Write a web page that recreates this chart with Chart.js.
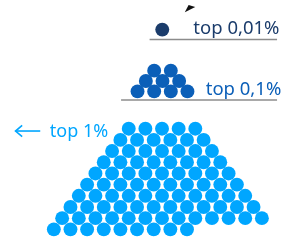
<!DOCTYPE html>
<html><head><meta charset="utf-8">
<script src="https://cdn.jsdelivr.net/npm/chart.js@4/dist/chart.umd.min.js"></script>
<style>html,body{margin:0;padding:0;background:#fff}canvas{display:block}</style>
</head><body>
<canvas id="c" width="284" height="246"></canvas>
<script>
// ---- data ----
const groupLabels = ['top 0,01%', 'top 0,1%', 'top 1%'];
const groupUnits = [1, 9, 90];                 // circles in each group
const rowsTop001 = [1];                        // rows from bottom to top
const rowsTop01 = [4, 3, 2];
const rowsTop1 = [9, 13, 12, 11, 10, 9, 8, 7, 6, 5];
const groupColors = ['#1b3c6b', '#0b5fb8', '#00a6ff'];

// ---- layout (pixel-like data units) ----
const layout = [
  {rows: rowsTop001, x0: 163.3, y0: 24, dx: 17.5, dy: 11.85},
  {rows: rowsTop01, x0: 137.3, y0: 89.5, dx: 17.5, dy: 11},
  {rows: rowsTop1, x0: 49.3, y0: 235.7, dx: 17.5, dy: 11.85}
];
function pack(g) {
  const pts = [];
  g.rows.forEach((n, r) => {
    for (let i = 0; i < n; i++) pts.push({x: g.x0 + r * g.dx / 2 + i * g.dx, y: g.y0 - r * g.dy});
  });
  return pts;
}
const datasets = layout.map((g, k) => ({
  label: groupLabels[k],
  data: pack(g),
  backgroundColor: groupColors[k],
  borderWidth: 0,
  pointRadius: 6.95,
  pointHoverRadius: 6.95,
  clip: false
}));

const deco = {
  id: 'deco',
  afterDraw(chart) {
    const {ctx, scales: {x, y}} = chart;
    const X = v => x.getPixelForValue(v), Y = v => y.getPixelForValue(v);
    ctx.save();
    // separators
    ctx.strokeStyle = '#8c8c8c'; ctx.lineWidth = 1.5;
    [[150, 284, 34.5], [120, 284, 98.5]].forEach(([a, b, yy]) => {
      ctx.beginPath(); ctx.moveTo(X(a), Y(yy)); ctx.lineTo(X(b), Y(yy)); ctx.stroke();
    });
    // labels
    ctx.font = '18.5px "Noto Sans"';
    ctx.textBaseline = 'alphabetic';
    ctx.textAlign = 'left';
    ctx.fillStyle = groupColors[0]; ctx.fillText(groupLabels[0], X(196), Y(29));
    ctx.fillStyle = groupColors[1]; ctx.fillText(groupLabels[1], X(209), Y(93));
    ctx.font = '18px "Noto Sans"';
    ctx.fillStyle = groupColors[2]; ctx.fillText(groupLabels[2], X(45), Y(138));
    // left arrow
    ctx.strokeStyle = groupColors[2]; ctx.lineWidth = 1.6;
    ctx.beginPath(); ctx.moveTo(X(35), Y(131.5)); ctx.lineTo(X(9), Y(131.5)); ctx.stroke();
    ctx.beginPath(); ctx.moveTo(X(16), Y(125.5)); ctx.lineTo(X(9), Y(131.5)); ctx.lineTo(X(16), Y(137.5)); ctx.stroke();
    // cropped arrowhead at top
    ctx.fillStyle = '#111';
    ctx.beginPath(); ctx.moveTo(X(187), Y(5.5)); ctx.lineTo(X(191), Y(-2)); ctx.lineTo(X(198), Y(0)); ctx.closePath(); ctx.fill();
    ctx.restore();
  }
};

new Chart(document.getElementById('c'), {
  type: 'scatter',
  data: {datasets},
  options: {
    responsive: false,
    devicePixelRatio: 1,
    animation: false,
    layout: {padding: 0},
    plugins: {legend: {display: false}, tooltip: {enabled: false}},
    scales: {
      x: {type: 'linear', min: 0, max: 284, display: false},
      y: {type: 'linear', min: 0, max: 246, reverse: true, display: false}
    }
  },
  plugins: [deco]
});
</script>
</body></html>
